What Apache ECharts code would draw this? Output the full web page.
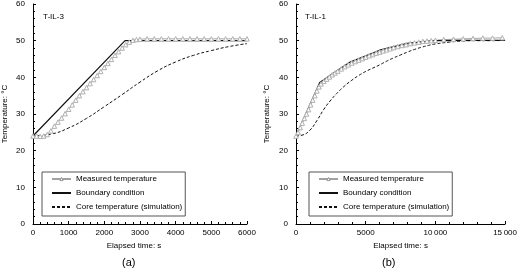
<!DOCTYPE html>
<html>
<head>
<meta charset="utf-8">
<script src="https://cdn.jsdelivr.net/npm/echarts@6/dist/echarts.min.js"></script>
<style>
html, body { margin: 0; padding: 0; background: #fff; }
#chart { width: 520px; height: 277px; }
</style>
</head>
<body>
<div id="chart"></div>
<script>
// (a) T-IL-3
var aMeasT = [0, 100, 200, 300, 400, 500, 600, 700, 800, 900, 1000, 1100, 1200, 1300, 1400, 1500,
    1600, 1700, 1800, 1900, 2000, 2100, 2200, 2300, 2400, 2500, 2600, 2700, 2800, 2900, 3000,
    3200, 3400, 3600, 3800, 4000, 4200, 4400, 4600, 4800, 5000, 5200, 5400, 5600, 5800, 6000];
var aMeasV = [24.0, 24.0, 23.9, 24.0, 24.4, 25.4, 26.7, 27.8, 28.9, 30.1, 31.3, 32.5, 33.8, 35.0, 36.1, 37.2,
    38.3, 39.4, 40.5, 41.6, 42.7, 43.8, 44.9, 46.0, 47.0, 48.0, 48.9, 49.6, 50.1, 50.3, 50.4,
    50.5, 50.5, 50.5, 50.5, 50.5, 50.5, 50.5, 50.5, 50.5, 50.5, 50.5, 50.5, 50.5, 50.5, 50.5];
var aBoundT = [0, 2580, 6000];
var aBoundV = [24.0, 50.0, 50.0];
var aCoreT = [0, 500, 1000, 1500, 2000, 2500, 3000, 3500, 4000, 4500, 5000, 5500, 6000];
var aCoreV = [24.0, 24.5, 26.2, 28.8, 32.0, 35.3, 38.7, 41.8, 44.2, 46.0, 47.3, 48.4, 49.2];

// (b) T-IL-1
var bMeasT = [0, 150, 300, 450, 600, 750, 900, 1050, 1200, 1350, 1500, 1650, 1800, 2000, 2200, 2400,
    2600, 2800, 3000, 3250, 3500, 3750, 4000, 4250, 4500, 4750, 5000, 5250, 5500, 5750, 6000, 6250,
    6500, 6750, 7000, 7300, 7600, 7900, 8200, 8500, 8800, 9100, 9400, 9700, 10000, 10600, 11300,
    12000, 12700, 13400, 14100, 14800];
var bMeasV = [24.0, 25.0, 26.3, 27.5, 28.8, 30.0, 31.2, 32.5, 33.8, 35.0, 36.3, 37.4, 38.2, 38.9, 39.5, 40.1,
    40.7, 41.2, 41.7, 42.3, 42.9, 43.4, 43.9, 44.3, 44.7, 45.1, 45.5, 45.9, 46.2, 46.6, 46.9, 47.2,
    47.5, 47.8, 48.1, 48.4, 48.7, 48.9, 49.2, 49.4, 49.6, 49.8, 49.9, 50.0, 50.1, 50.3, 50.4,
    50.5, 50.6, 50.7, 50.7, 50.8];
var bBoundT = [0, 1700, 3800, 6000, 8000, 10000, 12000, 15000];
var bBoundV = [24.0, 38.6, 44.0, 47.4, 49.3, 50.0, 50.1, 50.1];
var bCoreT = [0, 500, 1000, 1500, 2000, 2500, 3000, 3500, 4000, 4500, 5000, 5500, 6000, 6500, 7000,
    7500, 8000, 8500, 9000, 9500, 10000, 11000, 12000, 13000, 14000, 15000];
var bCoreV = [24.0, 24.3, 25.6, 28.2, 31.3, 33.8, 35.9, 37.7, 39.2, 40.5, 41.6, 42.5, 43.4, 44.4, 45.3,
    46.1, 46.9, 47.6, 48.2, 48.7, 49.1, 49.6, 49.9, 50.0, 50.0, 50.1];

var yTicks = [0, 10, 20, 30, 40, 50, 60];
var legendNames = ['Measured temperature', 'Boundary condition', 'Core temperature (simulation)'];

function pairs(t, v) {
    return t.map(function (x, i) { return [x, v[i]]; });
}

var font = 'Liberation Sans, Arial, sans-serif';
var myChart = echarts.init(document.getElementById('chart'));

function xAxisOf(idx, max, interval, fmt, namePad) {
    return {
        gridIndex: idx, type: 'value', min: 0, max: max, interval: interval,
        name: 'Elapsed time: s', nameLocation: 'middle', nameGap: 18,
        nameTextStyle: { color: '#000', fontSize: 8, fontFamily: font, padding: namePad },
        axisLine: { lineStyle: { color: '#000', width: 1 } },
        axisTick: { inside: true, length: 3, lineStyle: { color: '#000' } },
        minorTick: { show: true, splitNumber: 5, length: 2, lineStyle: { color: '#000' } },
        splitLine: { show: false },
        axisLabel: { color: '#000', fontSize: 8, fontFamily: font, margin: 5, formatter: fmt }
    };
}

function yAxisOf(idx, gap) {
    return {
        gridIndex: idx, type: 'value', min: yTicks[0], max: yTicks[yTicks.length - 1], interval: 10,
        name: 'Temperature: °C', nameLocation: 'middle', nameGap: gap,
        nameTextStyle: { color: '#000', fontSize: 8, fontFamily: font },
        axisLine: { show: true, lineStyle: { color: '#000', width: 1 } },
        axisTick: { show: true, inside: true, length: 3, lineStyle: { color: '#000' } },
        minorTick: { show: true, splitNumber: 5, length: 2, lineStyle: { color: '#000' } },
        splitLine: { show: false },
        axisLabel: { color: '#000', fontSize: 8, fontFamily: font, margin: 8 }
    };
}

function seriesOf(idx, measT, measV, boundT, boundV, coreT, coreV) {
    return [
        {
            name: legendNames[0], type: 'line', xAxisIndex: idx, yAxisIndex: idx,
            data: pairs(measT, measV), symbol: 'triangle', symbolSize: 4.5, showSymbol: true,
            lineStyle: { color: '#aaa', width: 1 },
            itemStyle: { color: '#fff', borderColor: '#b0b0b0', borderWidth: 1 }
        },
        {
            name: legendNames[1], type: 'line', xAxisIndex: idx, yAxisIndex: idx,
            data: pairs(boundT, boundV), symbol: 'none',
            lineStyle: { color: '#111', width: 1.2 }, itemStyle: { color: '#111' }
        },
        {
            name: legendNames[2], type: 'line', xAxisIndex: idx, yAxisIndex: idx,
            data: pairs(coreT, coreV), symbol: 'none', smooth: true,
            lineStyle: { color: '#111', width: 1, type: [3, 2] }, itemStyle: { color: '#111' }
        }
    ];
}

function legendOf(left) {
    return {
        data: [
            { name: legendNames[0], itemStyle: { color: '#fff', borderColor: '#999', borderWidth: 1 },
                lineStyle: { color: '#444', width: 1 } },
            { name: legendNames[1], itemStyle: { opacity: 0 } },
            { name: legendNames[2], itemStyle: { opacity: 0 } }
        ],
        orient: 'vertical', left: left, top: 172,
        itemWidth: 19, itemHeight: 4, itemGap: 6,
        padding: [3, 3, 5, 9], borderColor: '#555', borderWidth: 1, backgroundColor: '#fff',
        textStyle: { color: '#000', fontSize: 8, fontFamily: font },
        selectedMode: false
    };
}

var option = {
    backgroundColor: '#fff',
    animation: false,
    grid: [
        { left: 31, top: 4, width: 216, height: 220 },
        { left: 296, top: 4, width: 212, height: 220 }
    ],
    xAxis: [
        xAxisOf(0, 6000, 1000, function (v) { return String(v); }, [0, 12, 0, 0]),
        xAxisOf(1, 15000, 5000, function (v) {
            return v >= 10000 ? String(v).replace(/(\d+)(\d{3})$/, '$1\u2009$2') : String(v);
        }, 0)
    ],
    yAxis: [yAxisOf(0, 24), yAxisOf(1, 25)],
    legend: [legendOf(42), legendOf(309)],
    series: seriesOf(0, aMeasT, aMeasV, aBoundT, aBoundV, aCoreT, aCoreV)
        .concat(seriesOf(1, bMeasT, bMeasV, bBoundT, bBoundV, bCoreT, bCoreV)),
    graphic: [
        { type: 'text', left: 43, top: 13, style: { text: 'T-IL-3', fill: '#000', font: '8px ' + font } },
        { type: 'text', left: 305, top: 13, style: { text: 'T-IL-1', fill: '#000', font: '8px ' + font } },
        { type: 'text', left: 122, top: 257, style: { text: '(a)', fill: '#000', font: '11px ' + font } },
        { type: 'text', left: 382, top: 257, style: { text: '(b)', fill: '#000', font: '11px ' + font } }
    ]
};

myChart.setOption(option);
window.addEventListener('resize', function () {
    myChart.resize();
});
</script>
</body>
</html>
